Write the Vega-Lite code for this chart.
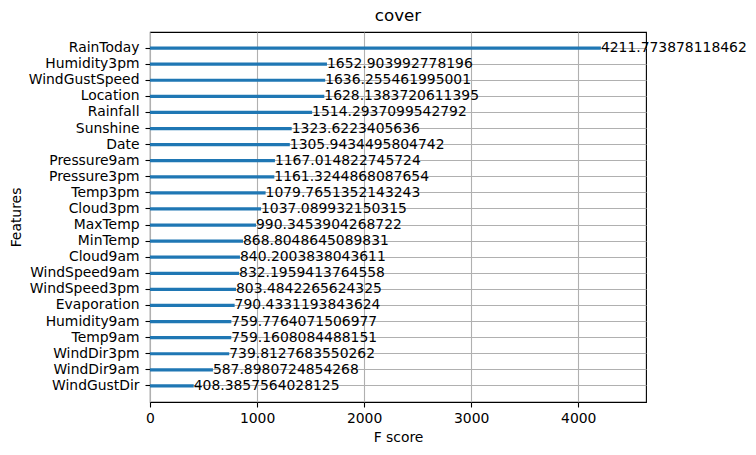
{
  "$schema": "https://vega.github.io/schema/vega-lite/v6.json",
  "autosize": "none",
  "padding": {"left": 150, "top": 32, "right": 110, "bottom": 53},
  "width": 496,
  "height": 370,
  "background": "white",
  "title": {"text": "cover", "font": "DejaVu Sans", "fontSize": 16.7, "fontWeight": "normal", "color": "black", "offset": 7},
  "config": {
    "view": {"stroke": "black", "strokeWidth": 1.1},
    "axis": {
      "labelFont": "DejaVu Sans", "labelFontSize": 13.9, "labelColor": "black",
      "titleFont": "DejaVu Sans", "titleFontSize": 13.9, "titleFontWeight": "normal", "titleColor": "black",
      "tickColor": "black", "tickSize": 5, "tickWidth": 1.1,
      "domain": false, "labelFlush": false,
      "grid": true, "gridColor": "#b0b0b0", "gridWidth": 1.1,
      "zindex": 1
    }
  },
  "data": {"values": [
    {"feature": "RainToday", "fscore": 4211.773878118462},
    {"feature": "Humidity3pm", "fscore": 1652.903992778196},
    {"feature": "WindGustSpeed", "fscore": 1636.255461995001},
    {"feature": "Location", "fscore": 1628.1383720611395},
    {"feature": "Rainfall", "fscore": 1514.2937099542792},
    {"feature": "Sunshine", "fscore": 1323.6223405636},
    {"feature": "Date", "fscore": 1305.9434495804742},
    {"feature": "Pressure9am", "fscore": 1167.014822745724},
    {"feature": "Pressure3pm", "fscore": 1161.3244868087654},
    {"feature": "Temp3pm", "fscore": 1079.7651352143243},
    {"feature": "Cloud3pm", "fscore": 1037.089932150315},
    {"feature": "MaxTemp", "fscore": 990.3453904268722},
    {"feature": "MinTemp", "fscore": 868.8048645089831},
    {"feature": "Cloud9am", "fscore": 840.2003838043611},
    {"feature": "WindSpeed9am", "fscore": 832.1959413764558},
    {"feature": "WindSpeed3pm", "fscore": 803.4842265624325},
    {"feature": "Evaporation", "fscore": 790.4331193843624},
    {"feature": "Humidity9am", "fscore": 759.7764071506977},
    {"feature": "Temp9am", "fscore": 759.1608084488151},
    {"feature": "WindDir3pm", "fscore": 739.8127683550262},
    {"feature": "WindDir9am", "fscore": 587.8980724854268},
    {"feature": "WindGustDir", "fscore": 408.3857564028125}
  ]},
  "encoding": {
    "y": {
      "field": "feature", "type": "nominal", "sort": {"field": "fscore", "order": "descending"},
      "scale": {"type": "band", "paddingInner": 0.8, "paddingOuter": 0.9},
      "axis": {"title": "Features", "titlePadding": 5, "labelPadding": 6, "bandPosition": 0.5}
    },
    "x": {
      "field": "fscore", "type": "quantitative",
      "scale": {"domain": [0, 4632.95], "nice": false, "zero": true},
      "axis": {"title": "F score", "values": [0, 1000, 2000, 3000, 4000], "labelPadding": 4, "titlePadding": 6, "format": "d"}
    }
  },
  "layer": [
    {"mark": {"type": "bar", "color": "#1f77b4", "clip": false}},
    {"mark": {"type": "text", "font": "DejaVu Sans", "fontSize": 13.9, "align": "left", "baseline": "middle", "color": "black", "dx": 0},
     "encoding": {"text": {"field": "fscore", "type": "nominal"}}}
  ]
}
